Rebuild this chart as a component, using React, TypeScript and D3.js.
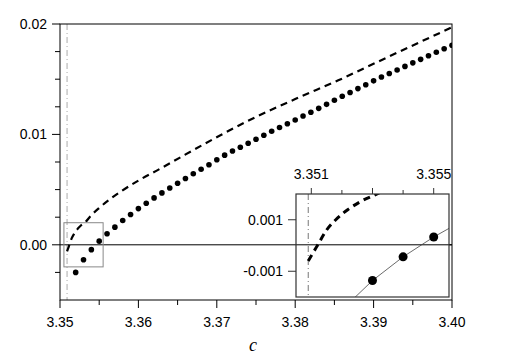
import React from 'react';
import * as d3 from 'd3';

// dotted series, one point per 0.001 step of c
const dotC = d3.range(49).map(i => +(3.352 + i * 0.001).toFixed(3));
const dotV = [
  -0.0025, -0.00136, -0.00044, 0.00033, 0.001, 0.0016, 0.0022, 0.00274, 0.00328, 0.00377,
  0.00425, 0.0047, 0.00515, 0.00558, 0.006, 0.00643, 0.00685, 0.00725, 0.0077, 0.00812,
  0.0085, 0.00884, 0.0092, 0.00956, 0.00992, 0.01028, 0.01062, 0.01096, 0.01131, 0.01166,
  0.012, 0.01236, 0.01272, 0.0131, 0.01345, 0.0138, 0.01415, 0.0145, 0.01485, 0.0152,
  0.01552, 0.01584, 0.01616, 0.01648, 0.0168, 0.01712, 0.01744, 0.01776, 0.01808,
];

// dashed curve
const dashC = [3.3509, 3.3511, 3.3512, 3.3515, 3.3518, 3.3522, 3.3526, 3.3533, 3.3539, 3.3551,
  3.3577, 3.3602, 3.3628, 3.3653, 3.3704, 3.3742, 3.38, 3.3855, 3.393, 3.4];
const dashV = [-0.0006, -0.0002, 0.0, 0.0006, 0.001, 0.0014, 0.0017, 0.0021, 0.0026, 0.0034,
  0.0048, 0.0059, 0.0069, 0.0079, 0.0099, 0.0113, 0.0132, 0.0149, 0.0174, 0.0197];

const cStar = 3.3509;

const xMajor = [3.35, 3.36, 3.37, 3.38, 3.39, 3.4];
const yMajor = [0.02, 0.01, 0.0];
const insetXMajor = [3.351, 3.353, 3.355];
const insetXLabels = ['3.351', '', '3.355'];
const insetYMajor = [0.001, -0.001];

const font = '"Liberation Sans", Arial, sans-serif';

export default function App() {
  const x = d3.scaleLinear().domain([3.35, 3.4]).range([60, 452]);
  const y = d3.scaleLinear().domain([-0.005, 0.02]).range([300, 24]);

  const ix = d3.scaleLinear().domain([3.3505, 3.3555]).range([296, 449]);
  const iy = d3.scaleLinear().domain([-0.002, 0.002]).range([297, 194]);

  const dashPts = dashC.map((c, i) => [c, dashV[i]] as [number, number]);
  const dotPts = dotC.map((c, i) => [c, dotV[i]] as [number, number]);

  const mainLine = d3.line<[number, number]>().x(d => x(d[0])).y(d => y(d[1])).curve(d3.curveMonotoneX);
  const insetLine = d3.line<[number, number]>().x(d => ix(d[0])).y(d => iy(d[1])).curve(d3.curveMonotoneX);
  const insetDotLine = d3.line<[number, number]>().x(d => ix(d[0])).y(d => iy(d[1]));

  const xMinor = d3.range(3.355, 3.4, 0.01);
  const yMinor = [0.0175, 0.015, 0.0125, 0.0075, 0.005, 0.0025, -0.0025];
  const insetXMinor = [3.352, 3.354];

  const [x0, x1] = x.range();
  const [yb, yt] = y.range();
  const [ix0, ix1] = ix.range();
  const [iyb, iyt] = iy.range();

  const insetDots = dotPts.filter(d => d[0] >= 3.3505 && d[0] <= 3.3555 && d[1] >= -0.002 && d[1] <= 0.002);

  return (
    <svg width={510} height={354} style={{ position: 'absolute', left: 0, top: 0, background: '#fff' }}
      fontFamily={font}>
      <defs>
        <clipPath id="mainClip"><rect x={x0} y={yt} width={x1 - x0} height={yb - yt} /></clipPath>
        <clipPath id="insetClip"><rect x={ix0} y={iyt} width={ix1 - ix0} height={iyb - iyt} /></clipPath>
      </defs>

      {/* main plot */}
      <line x1={x(cStar)} x2={x(cStar)} y1={yt} y2={yb} stroke="#aaa" strokeWidth={1} strokeDasharray="6,3,1,3" />
      <line x1={x0} x2={x1} y1={y(0)} y2={y(0)} stroke="#000" strokeWidth={1} />
      <g clipPath="url(#mainClip)">
        <path d={mainLine(dashPts) || ''} fill="none" stroke="#000" strokeWidth={2.2} strokeDasharray="7,5" />
        {dotPts.map((d, i) => (
          <circle key={i} cx={x(d[0])} cy={y(d[1])} r={2.8} fill="#000" />
        ))}
      </g>
      <rect x={x(3.3505)} y={y(0.002)} width={x(3.3555) - x(3.3505)} height={y(-0.002) - y(0.002)}
        fill="none" stroke="#888" strokeWidth={1} />
      <rect x={x0} y={yt} width={x1 - x0} height={yb - yt} fill="none" stroke="#000" strokeWidth={1} />

      {xMajor.map(v => (
        <g key={v}>
          <line x1={x(v)} x2={x(v)} y1={yb} y2={yb + 8} stroke="#000" />
          <text x={x(v)} y={327} fontSize={14} textAnchor="middle">{v.toFixed(2)}</text>
        </g>
      ))}
      {xMinor.map(v => <line key={v} x1={x(v)} x2={x(v)} y1={yb} y2={yb + 5} stroke="#000" />)}
      {yMajor.map(v => (
        <g key={v}>
          <line x1={x0 - 8} x2={x0} y1={y(v)} y2={y(v)} stroke="#000" />
          <text x={47} y={y(v) + 5} fontSize={14} textAnchor="end">{v.toFixed(2)}</text>
        </g>
      ))}
      {yMinor.map(v => <line key={v} x1={x0 - 5} x2={x0} y1={y(v)} y2={y(v)} stroke="#000" />)}

      <text x={253} y={351} fontSize={18} fontStyle="italic" fontFamily='"Liberation Serif", serif' textAnchor="middle">c</text>

      {/* inset */}
      <rect x={ix0} y={iyt} width={ix1 - ix0} height={iyb - iyt} fill="#fff" />
      <line x1={ix(cStar)} x2={ix(cStar)} y1={iyt} y2={iyb} stroke="#777" strokeWidth={1} strokeDasharray="6,3,1,3" />
      <line x1={ix0} x2={x1} y1={y(0)} y2={y(0)} stroke="#000" strokeWidth={1} />
      <g clipPath="url(#insetClip)">
        <path d={insetLine(dashPts) || ''} fill="none" stroke="#000" strokeWidth={3} strokeDasharray="7,5" />
        <path d={insetDotLine(dotPts) || ''} fill="none" stroke="#444" strokeWidth={0.8} />
        {insetDots.map((d, i) => (
          <circle key={i} cx={ix(d[0])} cy={iy(d[1])} r={4.5} fill="#000" />
        ))}
      </g>
      <rect x={ix0} y={iyt} width={ix1 - ix0} height={iyb - iyt} fill="none" stroke="#333" strokeWidth={1.2} />
      {insetXMajor.map((v, i) => (
        <g key={v}>
          <line x1={ix(v)} x2={ix(v)} y1={iyt} y2={iyt - 6} stroke="#333" />
          <text x={ix(v)} y={179} fontSize={14} textAnchor="middle">{insetXLabels[i]}</text>
        </g>
      ))}
      {insetXMinor.map(v => <line key={v} x1={ix(v)} x2={ix(v)} y1={iyt} y2={iyt - 4} stroke="#333" />)}
      {insetYMajor.map(v => (
        <g key={v}>
          <line x1={ix0 - 8} x2={ix0} y1={iy(v)} y2={iy(v)} stroke="#333" />
          <text x={283} y={iy(v) + 5} fontSize={14} textAnchor="end">{v.toFixed(3)}</text>
        </g>
      ))}
    </svg>
  );
}
